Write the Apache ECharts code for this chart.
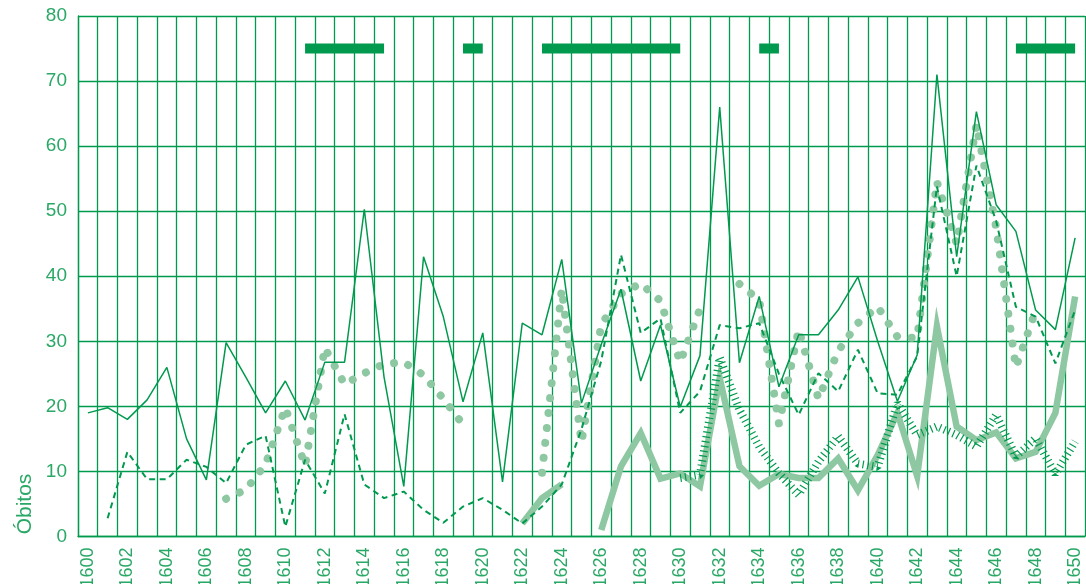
<!DOCTYPE html>
<html>
<head>
<meta charset="utf-8">
<script src="https://cdn.jsdelivr.net/npm/echarts@6/dist/echarts.min.js"></script>
<style>
html,body{margin:0;padding:0;background:#fff;}
#chart{width:1086px;height:584px;}
</style>
</head>
<body>
<div id="chart"></div>
<script>
// Years (categories)
const years = [];
for (let y = 1600; y <= 1650; y++) years.push(String(y));

// Thin solid line
const solidSeries = [19,19.8,18,21,26,15,8.7,29.8,24.5,19,23.9,17.9,26.8,26.8,50.3,24.5,7.7,43,33.8,20.7,31.3,8.4,32.8,31,42.6,20.5,29.5,38,23.9,32.5,19.9,27.8,66,26.7,36.9,23,31,31,34.8,39.9,30,20.8,27.9,71,43,65.3,51,46.9,34.8,31.8,45.9];

// Thin dashed line
const dashedSeries = [null,2.8,13,8.8,8.8,11.8,10.7,8.2,14.1,15.5,1.5,11.8,6.6,18.8,8,5.9,6.9,4.1,2.1,4.6,5.9,4.1,2.0,4.6,8,16.5,27,43.3,31.3,33.5,19,22.3,32.5,32,32.8,25,18.7,25.1,22.3,28.7,22,21.8,27.7,53.8,40,57,48.5,35.3,33.8,26.6,34.8];

// Large dotted line (light green)
const dottedSeries = [null,null,null,null,null,null,null,5.8,7.2,11.1,19.8,10.9,29,23.4,25.1,26.5,26.8,24.8,21.2,17.2,null,null,null,9.8,38,14.5,32.5,37.3,38.9,36.2,26.8,35,null,38.8,36.3,17.3,31.8,21.2,28.5,32.8,35.3,30.7,30.5,54.5,45,63.3,47.5,26,34.7,null,null];

// Thick light green line
const thickSeries = [null,null,null,null,null,null,null,null,null,null,null,null,null,null,null,null,null,null,null,null,null,null,2.0,5.9,8,null,1,10.8,15.9,8.9,9.7,7.7,24.3,10.8,7.8,9.6,9,9,12,7.1,12.5,19,9.3,32.3,16.9,14.8,16,12,13,19,36.9];

// Hatched line
const hatchedSeries = [null,null,null,null,null,null,null,null,null,null,null,null,null,null,null,null,null,null,null,null,null,null,null,null,null,null,null,null,null,null,9,9.5,27.5,19.5,13.8,9.7,6.4,11.5,15.4,11.2,10.7,20.5,15.6,16.9,15.6,13.8,18.7,12.3,15.1,9.6,14.6];

// Periods marked by horizontal bars at the top
const periodBars = [null,null,null,null,null,null,null,null,null,null,null,75,75,75,75,75,null,null,null,75,75,null,null,75,75,75,75,75,75,75,75,null,null,null,75,75,null,null,null,null,null,null,null,null,null,null,null,75,75,75,75];

const yTicks = {min: 0, max: 80, interval: 10};
const axisName = 'Óbitos';

const DARK = '#009a4e';
const LIGHT = '#8dc8a2';
const TEXT = '#2aa866';
const FONT = "'Liberation Sans', Arial, sans-serif";

const chart = echarts.init(document.getElementById('chart'), null, {renderer: 'canvas'});

function lineSeries(name, data, lineStyle, z) {
  return {
    name: name,
    type: 'line',
    data: data,
    showSymbol: false,
    symbol: 'none',
    connectNulls: false,
    animation: false,
    silent: true,
    z: z,
    lineStyle: lineStyle
  };
}

chart.setOption({
  animation: false,
  grid: {left: 78, right: 1, top: 16, bottom: 47.5, containLabel: false, outerBoundsMode: 'none'},
  xAxis: {
    type: 'category',
    data: years,
    boundaryGap: true,
    axisLine: {show: true, lineStyle: {color: DARK, width: 1.3}},
    axisTick: {show: false},
    axisLabel: {
      interval: 1,
      rotate: 90,
      margin: 11,
      color: TEXT,
      fontSize: 18,
      fontFamily: FONT
    },
    splitLine: {show: true, interval: 0, lineStyle: {color: DARK, width: 1.3}}
  },
  yAxis: {
    type: 'value',
    min: yTicks.min,
    max: yTicks.max,
    interval: yTicks.interval,
    axisLine: {show: true, lineStyle: {color: DARK, width: 1.3}},
    axisTick: {show: false},
    axisLabel: {margin: 11, color: TEXT, fontSize: 19, fontFamily: FONT},
    splitLine: {show: true, lineStyle: {color: DARK, width: 1.3}}
  },
  graphic: [{
    type: 'text',
    x: 25,
    y: 504,
    rotation: Math.PI / 2,
    style: {
      text: axisName,
      fill: TEXT,
      align: 'center',
      verticalAlign: 'middle',
      font: "21px 'Liberation Sans', Arial, sans-serif"
    }
  }],
  series: [
    lineSeries('periods', periodBars, {color: DARK, width: 10, cap: 'butt'}, 2),
    lineSeries('thick', thickSeries, {color: LIGHT, width: 6.5, cap: 'butt', join: 'miter'}, 3),
    lineSeries('dotted', dottedSeries, {color: LIGHT, width: 8, type: [0.01, 15], cap: 'round', join: 'round'}, 4),
    lineSeries('hatched', hatchedSeries, {color: DARK, width: 8, type: [1.2, 3.6], cap: 'butt', join: 'bevel'}, 5),
    lineSeries('dashed', dashedSeries, {color: DARK, width: 2, type: [6, 4.5], cap: 'butt'}, 6),
    lineSeries('solid', solidSeries, {color: DARK, width: 1.5}, 7)
  ]
});
</script>
</body>
</html>
